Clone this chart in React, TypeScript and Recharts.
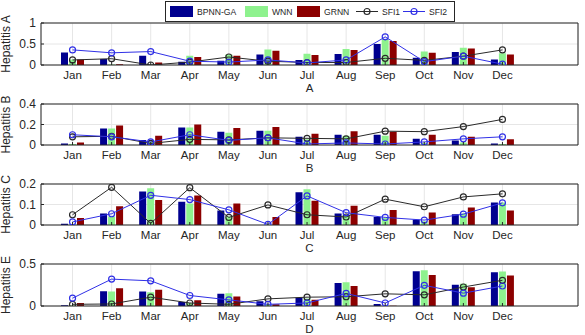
import { Bar, CartesianGrid, ComposedChart, Label, Line, XAxis, YAxis } from 'recharts'

const months = ['Jan', 'Feb', 'Mar', 'Apr', 'May', 'Jun', 'Jul', 'Aug', 'Sep', 'Oct', 'Nov', 'Dec']

// Hepatitis A
const hepA_bpnn = [0.3, 0.14, 0.22, 0.08, 0.1, 0.25, 0.12, 0.26, 0.5, 0.17, 0.31, 0.13]
const hepA_wnn = [0.13, 0.01, 0.01, 0.22, 0.25, 0.37, 0.27, 0.38, 0.62, 0.32, 0.41, 0.28]
const hepA_grnn = [0.13, 0.02, 0.06, 0.19, 0.22, 0.34, 0.24, 0.36, 0.57, 0.29, 0.39, 0.25]
const hepA_sfi1 = [0.12, 0.15, 0.0, 0.07, 0.19, 0.09, 0.06, 0.06, 0.16, 0.11, 0.21, 0.36]
const hepA_sfi2 = [0.36, 0.29, 0.32, 0.09, 0.07, 0.12, 0.05, 0.12, 0.67, 0.08, 0.21, 0.02]

// Hepatitis B
const hepB_bpnn = [0.015, 0.16, 0.05, 0.17, 0.13, 0.14, 0.08, 0.1, 0.1, 0.06, 0.045, 0.015]
const hepB_wnn = [0.01, 0.16, 0.035, 0.17, 0.12, 0.14, 0.055, 0.09, 0.09, 0.02, 0.025, 0.01]
const hepB_grnn = [0.025, 0.19, 0.09, 0.2, 0.165, 0.175, 0.11, 0.135, 0.13, 0.1, 0.08, 0.055]
const hepB_sfi1 = [0.08, 0.085, 0.015, 0.055, 0.05, 0.07, 0.065, 0.06, 0.135, 0.13, 0.18, 0.25]
const hepB_sfi2 = [0.1, 0.08, 0.03, 0.1, 0.045, 0.07, 0.01, 0.02, 0.01, 0.03, 0.06, 0.08]

// Hepatitis C
const hepC_bpnn = [0.006, 0.056, 0.163, 0.113, 0.071, 0.0, 0.16, 0.056, 0.039, 0.026, 0.052, 0.11]
const hepC_wnn = [0.004, 0.042, 0.179, 0.105, 0.042, 0.002, 0.174, 0.05, 0.034, 0.018, 0.056, 0.11]
const hepC_grnn = [0.034, 0.092, 0.122, 0.144, 0.105, 0.039, 0.118, 0.094, 0.073, 0.061, 0.085, 0.071]
const hepC_sfi1 = [0.05, 0.184, 0.008, 0.182, 0.037, 0.098, 0.05, 0.039, 0.126, 0.089, 0.137, 0.152]
const hepC_sfi2 = [0.015, 0.055, 0.145, 0.124, 0.074, 0.003, 0.142, 0.06, 0.037, 0.024, 0.053, 0.108]

// Hepatitis E
const hepE_bpnn = [0.008, 0.177, 0.173, 0.048, 0.145, 0.056, 0.097, 0.274, 0.024, 0.415, 0.254, 0.403]
const hepE_wnn = [0.005, 0.173, 0.165, 0.036, 0.153, 0.02, 0.09, 0.282, 0.004, 0.427, 0.266, 0.41]
const hepE_grnn = [0.036, 0.21, 0.194, 0.069, 0.113, 0.02, 0.073, 0.238, 0.004, 0.37, 0.222, 0.363]
const hepE_sfi1 = [0.02, 0.024, 0.105, 0.036, 0.02, 0.085, 0.105, 0.11, 0.145, 0.133, 0.226, 0.306]
const hepE_sfi2 = [0.093, 0.32, 0.3, 0.125, 0.073, 0.02, 0.036, 0.15, 0.036, 0.246, 0.153, 0.238]

const barSeries = [
  { key: 'bpnn', name: 'BPNN-GA', color: '#00008f' },
  { key: 'wnn', name: 'WNN', color: '#8ef28e' },
  { key: 'grnn', name: 'GRNN', color: '#8c0000' },
]
const lineSeries = [
  { key: 'sfi1', name: 'SFI1', color: '#2a2a2a' },
  { key: 'sfi2', name: 'SFI2', color: '#3030e6' },
]

const panels = [
  { id: 'A', ylabel: 'Hepatitis A', yTicks: [0, 0.5, 1], top: 23, height: 42,
    values: { bpnn: hepA_bpnn, wnn: hepA_wnn, grnn: hepA_grnn, sfi1: hepA_sfi1, sfi2: hepA_sfi2 } },
  { id: 'B', ylabel: 'Hepatitis B', yTicks: [0, 0.2, 0.4], top: 104, height: 41,
    values: { bpnn: hepB_bpnn, wnn: hepB_wnn, grnn: hepB_grnn, sfi1: hepB_sfi1, sfi2: hepB_sfi2 } },
  { id: 'C', ylabel: 'Hepatitis C', yTicks: [0, 0.1, 0.2], top: 184, height: 41,
    values: { bpnn: hepC_bpnn, wnn: hepC_wnn, grnn: hepC_grnn, sfi1: hepC_sfi1, sfi2: hepC_sfi2 } },
  { id: 'D', ylabel: 'Hepatitis E', yTicks: [0, 0.5], top: 264, height: 42,
    values: { bpnn: hepE_bpnn, wnn: hepE_wnn, grnn: hepE_grnn, sfi1: hepE_sfi1, sfi2: hepE_sfi2 } },
]

const W = 585
const FONT = '"Liberation Sans", Arial, sans-serif'
const INK = '#262626'
const AXIS_W = 41
const XAXIS_H = 30
const PAD_TOP = 20
const PAD_X = { left: 12, right: 56 }

// month label plus a short inward tick at the bottom edge
function BottomTick(props: any) {
  const { x, y, payload } = props
  const axisY = y - 6
  return (
    <g>
      <line x1={x} x2={x} y1={axisY} y2={axisY - 3} stroke={INK} />
      <text x={x} y={y} dy={7.8} textAnchor="middle" fontSize={11.5} fontFamily={FONT} fill={INK}>
        {payload.value}
      </text>
    </g>
  )
}

// value label plus a short inward tick at the left edge
function LeftTick(props: any) {
  const { x, y, payload } = props
  const axisX = x + 5
  return (
    <g>
      <line x1={axisX} x2={axisX + 3} y1={y} y2={y} stroke={INK} />
      <text x={x} y={y} dy={4.3} textAnchor="end" fontSize={12} fontFamily={FONT} fill={INK}>
        {String(payload.value)}
      </text>
    </g>
  )
}

function Panel({ panel }: { panel: (typeof panels)[number] }) {
  const data = months.map((month, i) => ({
    month,
    bpnn: panel.values.bpnn[i],
    wnn: panel.values.wnn[i],
    grnn: panel.values.grnn[i],
    sfi1: panel.values.sfi1[i],
    sfi2: panel.values.sfi2[i],
  }))
  const domain = [0, panel.yTicks[panel.yTicks.length - 1]]
  const chartH = PAD_TOP + panel.height + XAXIS_H

  return (
    <div style={{ position: 'absolute', left: 0, top: panel.top - PAD_TOP }}>
      <ComposedChart
        width={W}
        height={chartH}
        data={data}
        margin={{ top: PAD_TOP, right: 7, bottom: 0, left: 0 }}
        barSize={7}
        barGap={1}
      >
        <CartesianGrid stroke="#e6e6e6" />
        <XAxis
          dataKey="month"
          height={XAXIS_H}
          padding={PAD_X}
          axisLine={{ stroke: INK }}
          tickLine={false}
          tickSize={4}
          tickMargin={2}
          tick={<BottomTick />}
          interval={0}
        >
          <Label
            content={(p: any) => {
              const vb = p.viewBox
              return (
                <text x={vb.x + vb.width / 2} y={vb.y + 27} textAnchor="middle" fontSize={11.5} fontFamily={FONT} fill={INK}>
                  {panel.id}
                </text>
              )
            }}
          />
        </XAxis>
        <XAxis
          xAxisId="top"
          orientation="top"
          dataKey="month"
          mirror
          padding={PAD_X}
          tick={false}
          tickSize={3}
          axisLine={{ stroke: INK }}
          tickLine={{ stroke: INK }}
          interval={0}
        />
        <YAxis
          width={AXIS_W}
          domain={domain}
          ticks={panel.yTicks}
          interval={0}
          allowDataOverflow
          axisLine={{ stroke: INK }}
          tickLine={false}
          tickSize={4}
          tickMargin={1}
          tick={<LeftTick />}
        >
          <Label
            content={(p: any) => {
              const vb = p.viewBox
              const cy = vb.y + vb.height / 2
              return (
                <text x={10} y={cy} transform={`rotate(-90, 10, ${cy})`} textAnchor="middle" fontSize={12} fontFamily={FONT} fill={INK}>
                  {panel.ylabel}
                </text>
              )
            }}
          />
        </YAxis>
        <YAxis
          yAxisId="right"
          orientation="right"
          mirror
          domain={domain}
          ticks={panel.yTicks}
          interval={0}
          tick={false}
          tickSize={3}
          axisLine={{ stroke: INK }}
          tickLine={{ stroke: INK }}
        />
        {barSeries.map((s) => (
          <Bar key={s.key} dataKey={s.key} name={s.name} fill={s.color} isAnimationActive={false} />
        ))}
        {lineSeries.map((s) => (
          <Line
            key={s.key}
            type="linear"
            dataKey={s.key}
            name={s.name}
            stroke={s.color}
            strokeWidth={1}
            dot={{ r: 3, fill: 'none', stroke: s.color, strokeWidth: 1.2 }}
            isAnimationActive={false}
          />
        ))}
      </ComposedChart>
    </div>
  )
}

function LegendBox() {
  const swatchX = [170, 245, 297]
  const lineX = [356, 403]
  return (
    <svg width={W} height={24} style={{ position: 'absolute', left: 0, top: 0 }}>
      <rect x={165.5} y={1.5} width={289} height={20} fill="#fff" stroke={INK} />
      {barSeries.map((s, i) => (
        <g key={s.key}>
          <rect x={swatchX[i]} y={6} width={23} height={11} fill={s.color} />
          <text x={swatchX[i] + 27} y={15} fontSize={8.6} fontFamily={FONT} fill={INK}>
            {s.name}
          </text>
        </g>
      ))}
      {lineSeries.map((s, i) => (
        <g key={s.key}>
          <line x1={lineX[i]} x2={lineX[i] + 22} y1={11.5} y2={11.5} stroke={s.color} />
          <circle cx={lineX[i] + 11} cy={11.5} r={3} fill="none" stroke={s.color} strokeWidth={1.2} />
          <text x={lineX[i] + 26} y={15} fontSize={8.6} fontFamily={FONT} fill={INK}>
            {s.name}
          </text>
        </g>
      ))}
    </svg>
  )
}

export default function App() {
  return (
    <div style={{ position: 'absolute', left: 0, top: 0, width: W, height: 335, background: '#fff', overflow: 'hidden' }}>
      {panels.map((p) => (
        <Panel key={p.id} panel={p} />
      ))}
      <LegendBox />
    </div>
  )
}
